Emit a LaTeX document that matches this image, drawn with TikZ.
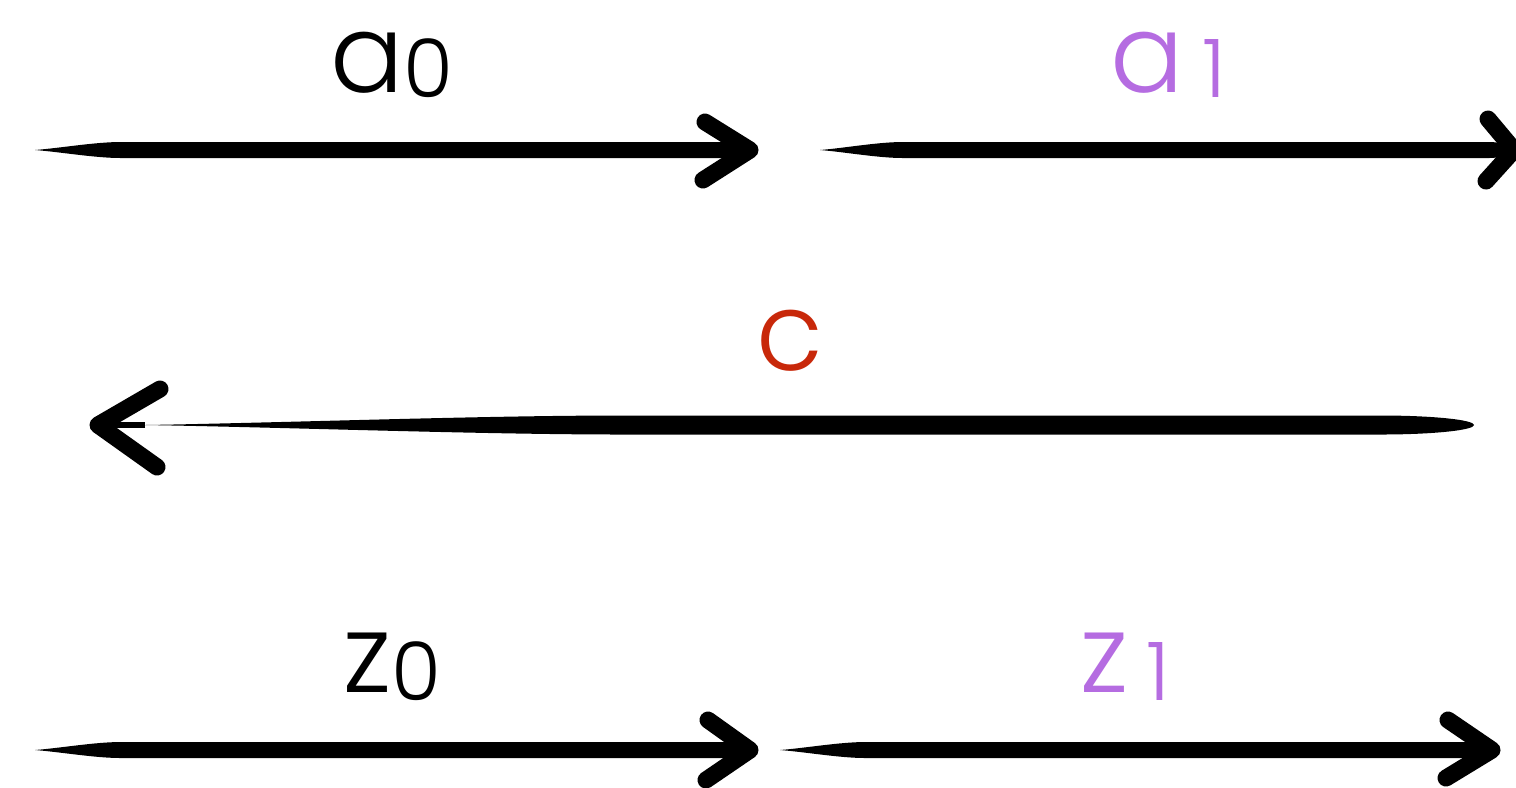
\documentclass[tikz,border=0pt]{standalone}
\usepackage{fontspec}
\setmainfont{Poppins Light}
\usepackage{xcolor}
\usetikzlibrary{calc}

\definecolor{lilac}{RGB}{181,108,225}
\definecolor{brickred}{RGB}{200,40,10}

% brush shaft from #1 to #2, half width #3,
% full width from fraction #4 up to fraction #5, rounded end at #2
\newcommand{\brush}[5]{%
  \pgfmathsetmacro{\tq}{#4*0.3}%
  \pgfmathsetmacro{\tr}{#4*0.7}%
  \pgfmathsetmacro{\eq}{#5+(1-#5)*0.55}%
  \fill (#1) .. controls ($(#1)!\tq!(#2)+(0,-#3*0.25)$) and ($(#1)!\tr!(#2)+(0,-#3)$) .. ($(#1)!#4!(#2)+(0,-#3)$)
    -- ($(#1)!#5!(#2)+(0,-#3)$) .. controls ($(#1)!\eq!(#2)+(0,-#3)$) and ($(#2)+(0,-#3*0.55)$) .. (#2)
    .. controls ($(#2)+(0,#3*0.55)$) and ($(#1)!\eq!(#2)+(0,#3)$) .. ($(#1)!#5!(#2)+(0,#3)$)
    -- ($(#1)!#4!(#2)+(0,#3)$) .. controls ($(#1)!\tr!(#2)+(0,#3)$) and ($(#1)!\tq!(#2)+(0,#3*0.25)$) .. cycle;}

\begin{document}
\begin{tikzpicture}[x=0.01cm, y=-0.01cm,
    brushhead/.style={line width=0.17cm, line cap=round, line join=round},
    lbl/.style={anchor=base, inner sep=0pt}]

    \useasboundingbox (0,0) rectangle (1516,787);

    % top row: a0 and a1
    \coordinate (a0tail) at (35,150);
    \coordinate (a0head) at (750,150);
    \coordinate (a1tail) at (820,150);
    \coordinate (a1head) at (1510,150);
    \brush{a0tail}{a0head}{8}{0.12}{0.97}
    \draw[brushhead] ($(a0head)+(-45,-28)$) -- (a0head) -- ($(a0head)+(-47,30)$);
    \brush{a1tail}{a1head}{8}{0.12}{0.97}
    \draw[brushhead] ($(a1head)+(-22,-31)$) -- ($(a1head)+(4,0)$) -- ($(a1head)+(-24,31)$);
    \node[lbl] (a0) at (392,92) {\fontsize{31}{36}\selectfont a\raisebox{-0.05cm}{\fontsize{23}{26}\selectfont 0}};
    \node[lbl, text=lilac] (a1) at (1168,92) {\fontsize{31}{36}\selectfont a\,\raisebox{-0.05cm}{\fontsize{23}{26}\selectfont 1}};

    % middle row: c (pointing left)
    \coordinate (chead) at (98,425);
    \coordinate (cstart) at (145,425);
    \coordinate (cend) at (1474,425);
    \brush{cstart}{cend}{9.5}{0.36}{0.93}
    \draw[brushhead] ($(chead)+(62,-36)$) -- (chead) -- ($(chead)+(59,42)$);
    \draw[line width=0.06cm] (cstart) -- ($(chead)+(8,0)$);
    \node[lbl, text=brickred] (c) at (790,370) {\fontsize{31}{36}\selectfont c};

    % bottom row: z0 and z1
    \coordinate (z0tail) at (35,750);
    \coordinate (z0head) at (750,750);
    \coordinate (z1tail) at (780,750);
    \coordinate (z1head) at (1492,750);
    \brush{z0tail}{z0head}{8}{0.12}{0.97}
    \draw[brushhead] ($(z0head)+(-42,-30)$) -- (z0head) -- ($(z0head)+(-44,30)$);
    \brush{z1tail}{z1head}{8}{0.12}{0.97}
    \draw[brushhead] ($(z1head)+(-44,-30)$) -- (z1head) -- ($(z1head)+(-46,28)$);
    \node[lbl] (z0) at (392,692) {\fontsize{31}{36}\selectfont z\raisebox{-0.08cm}{\fontsize{23}{26}\selectfont 0}};
    \node[lbl, text=lilac] (z1) at (1125,692) {\fontsize{31}{36}\selectfont z\,\raisebox{-0.08cm}{\fontsize{23}{26}\selectfont 1}};

\end{tikzpicture}
\end{document}
